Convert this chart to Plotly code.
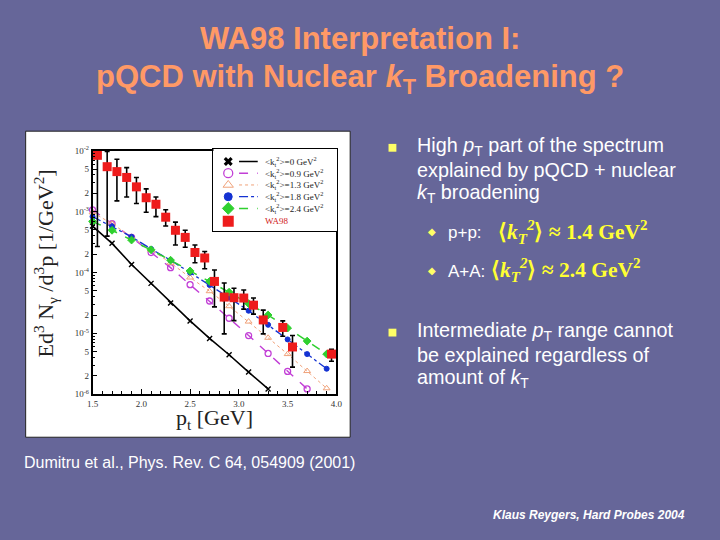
import plotly.graph_objects as go

W, H = 720, 540
def px(x): return x / W
def py(y): return 1 - y / H

# ---------------- data ----------------
pt_theory = [1.5, 1.7, 1.9, 2.1, 2.3, 2.5, 2.7, 2.9, 3.1, 3.3, 3.5, 3.7, 3.9]
kt0 = [5.79e-4, 3.01e-4, 1.35e-4, 6.62e-5, 3.16e-5, 1.60e-5, 8.24e-6, 4.45e-6, 2.31e-6, 1.22e-6]
kt09 = [1.07e-3, 6.32e-4, 3.77e-4, 2.13e-4, 1.20e-4, 6.30e-5, 3.40e-5, 1.77e-5, 9.20e-6, 4.67e-6, 2.37e-6, 1.22e-6]
kt13 = [9.73e-4, 6.32e-4, 3.85e-4, 2.36e-4, 1.44e-4, 8.26e-5, 4.92e-5, 2.79e-5, 1.56e-5, 8.45e-6, 4.56e-6, 2.40e-6, 1.25e-6]
kt18 = [8.28e-4, 5.73e-4, 3.85e-4, 2.44e-4, 1.59e-4, 9.93e-5, 6.22e-5, 3.85e-5, 2.35e-5, 1.38e-5, 7.94e-6, 4.56e-6, 2.62e-6]
kt24 = [6.89e-4, 4.93e-4, 3.41e-4, 2.36e-4, 1.59e-4, 1.06e-4, 7.13e-5, 4.74e-5, 3.08e-5, 2.00e-5, 1.22e-5, 7.46e-6, 4.56e-6]

wa98_pt = [1.55, 1.65, 1.75, 1.85, 1.95, 2.05, 2.15, 2.25, 2.35, 2.45, 2.55,
           2.65, 2.75, 2.85, 2.95, 3.05, 3.15, 3.25, 3.45, 3.55, 3.95]
wa98_y = [8.41e-3, 5.47e-3, 4.54e-3, 3.64e-3, 2.55e-3, 1.69e-3, 1.32e-3, 8.09e-4, 4.93e-4, 3.77e-4, 2.13e-4,
          1.73e-4, 7.13e-5, 3.94e-5, 3.85e-5, 3.80e-5, 2.90e-5, 1.66e-5, 1.25e-5, 5.97e-6, 4.56e-6]
wa98_hi = [1.56e-2, 9.75e-3, 7.26e-3, 5.27e-3, 3.64e-3, 2.36e-3, 1.74e-3, 1.07e-3, 6.71e-4, 4.93e-4, 2.83e-4,
           2.21e-4, 1.10e-4, 6.70e-5, 5.50e-5, 5.16e-5, 3.80e-5, 2.41e-5, 1.60e-5, 9.21e-6, 5.48e-6]
wa98_lo = [2.67e-4, 3.95e-4, 1.50e-3, 1.74e-3, 1.36e-3, 9.73e-4, 8.28e-4, 5.79e-4, 2.83e-4, 2.60e-4, 1.44e-4,
           1.15e-4, 2.72e-5, 9.79e-6, 1.62e-5, 2.50e-5, 2.07e-5, 9.79e-6, 8.97e-6, 2.78e-6, 3.48e-6]

kt_values = ["0", "0.9", "1.3", "1.8", "2.4"]
x_ticks = [1.5, 2.0, 2.5, 3.0, 3.5, 4.0]
decades = [-6, -5, -4, -3, -2]

# ---------------- figure ----------------
fig = go.Figure()

def kt_label(v):
    return "&lt;k<sub>t</sub><sup>2</sup>&gt;=" + v + " GeV<sup>2</sup>"

styles = [
    ("black", "solid", "x-thin-open", 5, 1.6, 1.4),
    ("#c23fd6", "dash", "circle-open", 6, 1.4, 1.3),
    ("#f0a27a", "dot", "triangle-up-open", 6, 1.0, 1.0),
    ("#1432d2", "dashdot", "circle", 5, 1.3, 1.0),
    ("#2fd02f", "dash", "diamond", 6, 1.5, 1.0),
]
curves = [kt0, kt09, kt13, kt18, kt24]
for ys, (col, dash, sym, ms, lw, mlw) in zip(curves, styles):
    fig.add_trace(go.Scatter(
        x=pt_theory[:len(ys)], y=ys, mode="lines+markers", showlegend=False,
        line=dict(color=col, width=lw, dash=dash),
        marker=dict(symbol=sym, size=ms, color=col, line=dict(color=col, width=mlw)),
        cliponaxis=False,
    ))

fig.add_trace(go.Scatter(
    x=wa98_pt, y=wa98_y, mode="markers", showlegend=False,
    marker=dict(symbol="square", size=9, color="#ee1c1c"),
    error_y=dict(type="data", symmetric=False,
                 array=[h - v for h, v in zip(wa98_hi, wa98_y)],
                 arrayminus=[v - l for v, l in zip(wa98_y, wa98_lo)],
                 color="black", thickness=1.6, width=2.5),
    cliponaxis=False,
))

# ---- legend drawn in its own small overlay panel (x2/y2, pixel-like units) ----
leg_rows = [13, 25, 37, 49, 61, 74]
for i, (col, dash, sym, ms, lw, mlw) in enumerate(styles):
    fig.add_trace(go.Scatter(x=[15], y=[leg_rows[i]], xaxis="x2", yaxis="y2", mode="markers",
                             showlegend=False, hoverinfo="skip",
                             marker=dict(symbol=sym if sym != "x-thin-open" else "x", size=ms + 3,
                                         color=col, line=dict(color=col, width=mlw if sym != "x-thin-open" else 0))))
    fig.add_trace(go.Scatter(x=[26, 45], y=[leg_rows[i]] * 2, xaxis="x2", yaxis="y2", mode="lines",
                             showlegend=False, hoverinfo="skip",
                             line=dict(color=col, width=lw, dash=dash)))
fig.add_trace(go.Scatter(x=[15], y=[leg_rows[5]], xaxis="x2", yaxis="y2", mode="markers",
                         showlegend=False, hoverinfo="skip",
                         marker=dict(symbol="square", size=11, color="#ee1c1c")))

# y tick labels
yvals, ytext = [], []
for d in decades:
    for m in (1, 2, 5):
        if d == -2 and m > 1:
            continue
        yvals.append(m * 10 ** d)
        ytext.append("10<sup>%d</sup>" % d if m == 1 else str(m))

tickfont = dict(family="Liberation Serif", size=9, color="#333333")
fig.update_layout(
    width=W, height=H,
    margin=dict(l=0, r=0, t=0, b=0),
    paper_bgcolor="#666699",
    plot_bgcolor="white",
    showlegend=False,
    xaxis=dict(domain=[px(88), px(336)], range=[1.5, 4.0],
               tickvals=x_ticks, ticktext=["%.1f" % v for v in x_ticks],
               ticks="inside", ticklen=5, tickcolor="black",
               minor=dict(dtick=0.1, ticks="inside", ticklen=3, tickcolor="black"),
               showline=True, linecolor="black", linewidth=1.5, mirror=True,
               showgrid=False, zeroline=False, tickfont=tickfont, anchor="y"),
    yaxis=dict(domain=[py(396), py(147)], type="log", range=[-6, -2],
               tickvals=yvals, ticktext=ytext,
               ticks="inside", ticklen=5, tickcolor="black",
               minor=dict(dtick="D1", ticks="inside", ticklen=3, tickcolor="black"),
               showline=True, linecolor="black", linewidth=1.5, mirror=True,
               showgrid=False, zeroline=False, tickfont=tickfont, anchor="x"),
    xaxis2=dict(domain=[px(211), px(337)], range=[0, 126], anchor="y2",
                showline=True, linecolor="black", linewidth=1.2, mirror=True,
                showgrid=False, zeroline=False, showticklabels=False, ticks=""),
    yaxis2=dict(domain=[py(229), py(145)], range=[84, 0], anchor="x2",
                showline=True, linecolor="black", linewidth=1.2, mirror=True,
                showgrid=False, zeroline=False, showticklabels=False, ticks=""),
)

shapes = [
    # white figure panel behind the chart
    dict(type="rect", xref="paper", yref="paper", x0=px(20), x1=px(350), y0=py(440), y1=py(127),
         fillcolor="white", line=dict(color="#222", width=1), layer="below"),
    # yellow square bullets
    dict(type="rect", xref="paper", yref="paper", x0=px(389), x1=px(397), y0=py(148), y1=py(140),
         fillcolor="#ffff66", line=dict(width=0)),
    dict(type="rect", xref="paper", yref="paper", x0=px(389), x1=px(397), y0=py(337), y1=py(329),
         fillcolor="#ffff66", line=dict(width=0)),
]
fig.update_layout(shapes=shapes)

ann = []
def text(x, y, s, size, color="white", family="Liberation Sans", xanchor="left", **kw):
    ann.append(dict(x=px(x), y=py(y), xref="paper", yref="paper", text=s, showarrow=False,
                    xanchor=xanchor, yanchor="middle", font=dict(family=family, size=size, color=color), **kw))

# legend texts
for i, v in enumerate(kt_values):
    ann.append(dict(x=50, y=leg_rows[i], xref="x2", yref="y2", text=kt_label(v), showarrow=False,
                    xanchor="left", yanchor="middle",
                    font=dict(family="Liberation Serif", size=9, color="#222")))
ann.append(dict(x=50, y=leg_rows[5], xref="x2", yref="y2", text="WA98", showarrow=False,
                xanchor="left", yanchor="middle",
                font=dict(family="Liberation Serif", size=9, color="#d02020")))

# title
text(360, 32, "<b>WA98 Interpretation I:</b>", 31, color="#ff9966", xanchor="center")
text(360, 74, "<b>pQCD with Nuclear <i>k</i><sub>T</sub> Broadening ?</b>", 31, color="#ff9966", xanchor="center")

# bullets
text(416, 143, "High <i>p</i><sub>T</sub> part of the spectrum", 19.8)
text(416, 167, "explained by pQCD + nuclear", 19.8)
text(416, 191, "<i>k</i><sub>T</sub> broadening", 19.8)
text(433, 230, "◆", 10, color="#ffff66", xanchor="center")
text(433, 269, "◆", 10, color="#ffff66", xanchor="center")
text(447, 231, "p+p:", 17)
text(447, 270, "A+A:", 17)
formula = "⟨<i>k</i><sub><i>T</i></sub><sup><i>2</i></sup>⟩ ≈ %s GeV<sup>2</sup>"
text(498, 230, "<b>" + formula % "1.4" + "</b>", 21.5, color="#ffff33", family="Liberation Serif")
text(491, 269, "<b>" + formula % "2.4" + "</b>", 21.5, color="#ffff33", family="Liberation Serif")
text(416, 332, "Intermediate <i>p</i><sub>T</sub> range cannot", 19.8)
text(416, 356, "be explained regardless of", 19.8)
text(416, 380, "amount of <i>k</i><sub>T</sub>", 19.8)

# axis titles
text(40, 262, "Ed<sup>3</sup> N<sub>γ</sub> /d<sup>3</sup>p [1/GeV<sup>2</sup>]", 22, color="#222",
     family="Liberation Serif", xanchor="center", textangle=-90)
text(212, 421, "p<sub>t</sub> [GeV]", 22, color="#222", family="Liberation Serif", xanchor="center")

# citations
text(16, 466, "Dumitru et al., Phys. Rev. C 64, 054909 (2001)", 16)
text(693, 520, "<b><i>Klaus Reygers, Hard Probes 2004</i></b>", 12, xanchor="right")

fig.update_layout(annotations=ann)
fig.write_html("out.html", config={"displayModeBar": False},
               post_script="document.body.style.margin='0';document.body.style.overflow='hidden';")
